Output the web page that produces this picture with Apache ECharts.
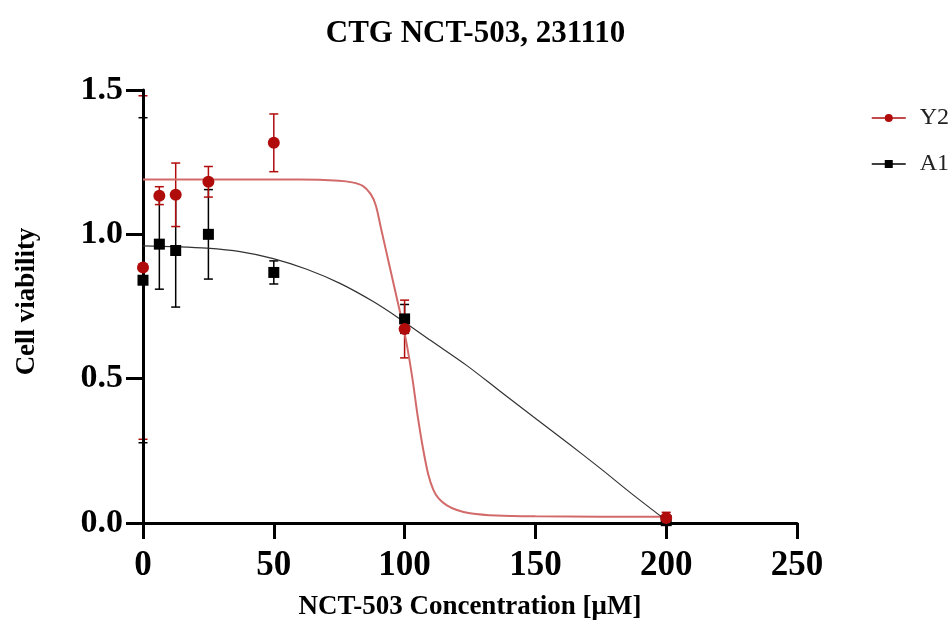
<!DOCTYPE html>
<html>
<head>
<meta charset="utf-8">
<script src="https://cdn.jsdelivr.net/npm/echarts@6/dist/echarts.min.js"></script>
<style>
html,body{margin:0;padding:0;background:#fff;}
#chart{width:951px;height:626px;}
</style>
</head>
<body>
<div id="chart"></div>
<script>
// ---- data ----
var concentrations = [0, 6.25, 12.5, 25, 50, 100, 200];
var y2Mean = [0.885, 1.134, 1.137, 1.182, 1.317, 0.672, 0.017];
var y2Err  = [0.595, 0.031, 0.110, 0.053, 0.100, 0.100, 0.020];
var a1Mean = [0.841, 0.966, 0.944, 1.000, 0.868, 0.707, 0.008];
var a1Err  = [0.563, 0.156, 0.196, 0.155, 0.040, 0.050, 0.010];

// fitted curves
var y2CurveX = [0, 30, 60, 75, 80, 84, 87, 89, 91, 93, 95, 97, 99, 101, 103, 105, 107, 109, 111, 113, 116, 120, 125, 135, 150, 175, 200];
var y2CurveY = [1.19, 1.19, 1.19, 1.186, 1.18, 1.168, 1.14, 1.10, 1.02, 0.94, 0.86, 0.78, 0.70, 0.61, 0.50, 0.37, 0.26, 0.17, 0.115, 0.085, 0.062, 0.045, 0.034, 0.026, 0.023, 0.022, 0.022];
var a1CurveX = [0, 12.5, 24.3, 37.1, 49.8, 62.6, 75.3, 88, 98.2, 110, 123.7, 136, 149.2, 162, 174.7, 187, 200];
var a1CurveY = [0.96, 0.957, 0.952, 0.94, 0.916, 0.879, 0.83, 0.767, 0.707, 0.632, 0.546, 0.46, 0.368, 0.28, 0.19, 0.10, 0.009];

var xTicks = [0, 50, 100, 150, 200, 250];
var yTicks = [0, 0.5, 1.0, 1.5];
var seriesNames = ['Y2', 'A1'];

function pairs(xs, ys) { return xs.map(function (x, i) { return [x, ys[i]]; }); }
function errData(xs, m, e) { return xs.map(function (x, i) { return [x, m[i] - e[i], m[i] + e[i]]; }); }

var RED = '#b00c0c';
var RED_CURVE = '#d26a6a';
var BLACK = '#000000';
var FONT = '"Liberation Serif", "DejaVu Serif", serif';

function errRender(color) {
  return function (params, api) {
    var x = api.value(0);
    var lo = api.coord([x, api.value(1)]);
    var hi = api.coord([x, api.value(2)]);
    var w = 4.5;
    var style = { stroke: color, lineWidth: 1.5 };
    return {
      type: 'group',
      children: [
        { type: 'line', shape: { x1: lo[0], y1: lo[1], x2: hi[0], y2: hi[1] }, style: style },
        { type: 'line', shape: { x1: lo[0] - w, y1: lo[1], x2: lo[0] + w, y2: lo[1] }, style: style },
        { type: 'line', shape: { x1: hi[0] - w, y1: hi[1], x2: hi[0] + w, y2: hi[1] }, style: style }
      ]
    };
  };
}

var chart = echarts.init(document.getElementById('chart'), null, { renderer: 'canvas' });
chart.setOption({
  backgroundColor: '#ffffff',
  animation: false,
  title: {
    text: 'CTG NCT-503, 231110',
    left: 'center',
    top: 13,
    textStyle: { fontFamily: FONT, fontWeight: 'bold', fontSize: 31, color: '#000' }
  },
  legend: {
    orient: 'vertical',
    left: 866,
    top: 101,
    itemWidth: 34,
    itemHeight: 10,
    itemGap: 22,
    textStyle: { fontFamily: FONT, fontSize: 24, color: '#222', padding: [0, 0, 0, 9] },
    data: [
      { name: seriesNames[0], itemStyle: { color: RED }, lineStyle: { color: RED, width: 1.5 } },
      { name: seriesNames[1], itemStyle: { color: BLACK }, lineStyle: { color: BLACK, width: 1.5 } }
    ]
  },
  grid: { left: 143, right: 154, top: 90, bottom: 101, containLabel: false },
  xAxis: {
    type: 'value',
    z: 1.5,
    min: xTicks[0],
    max: xTicks[xTicks.length - 1],
    interval: xTicks[1] - xTicks[0],
    name: 'NCT-503 Concentration [μM]',
    nameLocation: 'middle',
    nameGap: 71,
    nameTextStyle: { fontFamily: FONT, fontWeight: 'bold', fontSize: 27, color: '#000' },
    splitLine: { show: false },
    axisLine: { show: true, onZero: false, lineStyle: { color: '#000', width: 3 } },
    axisTick: { show: true, length: 16, lineStyle: { color: '#000', width: 3 } },
    axisLabel: { margin: 25, fontFamily: FONT, fontWeight: 'bold', fontSize: 35, color: '#000' }
  },
  yAxis: {
    type: 'value',
    z: 1.5,
    min: yTicks[0],
    max: yTicks[yTicks.length - 1],
    interval: yTicks[1] - yTicks[0],
    name: 'Cell viability',
    nameLocation: 'middle',
    nameGap: 102,
    nameTextStyle: { fontFamily: FONT, fontWeight: 'bold', fontSize: 27, color: '#000', padding: [0, 0, 0, 10] },
    splitLine: { show: false },
    axisLine: { show: true, onZero: false, lineStyle: { color: '#000', width: 3 } },
    axisTick: { show: true, length: 17, lineStyle: { color: '#000', width: 3 } },
    axisLabel: {
      margin: 20, fontFamily: FONT, fontWeight: 'bold', fontSize: 34, color: '#000',
      formatter: function (v) { return v.toFixed(1); }
    }
  },
  series: [
    {
      name: seriesNames[0], type: 'line', data: pairs(y2CurveX, y2CurveY),
      smooth: 0.3, showSymbol: false, symbol: 'circle', symbolSize: 11,
      lineStyle: { color: RED_CURVE, width: 2 }, itemStyle: { color: RED }, z: 2
    },
    {
      name: seriesNames[1], type: 'line', data: pairs(a1CurveX, a1CurveY),
      smooth: 0.3, showSymbol: false, symbol: 'rect', symbolSize: 10,
      lineStyle: { color: '#333', width: 1.2 }, itemStyle: { color: BLACK }, z: 2
    },
    {
      name: seriesNames[1], type: 'custom', data: errData(concentrations, a1Mean, a1Err),
      renderItem: errRender(BLACK), clip: false, z: 1, encode: { x: 0, y: [1, 2] }
    },
    {
      name: seriesNames[0], type: 'custom', data: errData(concentrations, y2Mean, y2Err),
      renderItem: errRender(RED), clip: false, z: 1, encode: { x: 0, y: [1, 2] }
    },
    {
      name: seriesNames[1], type: 'scatter', data: pairs(concentrations, a1Mean),
      symbol: 'rect', symbolSize: 11, itemStyle: { color: BLACK, opacity: 1 }, clip: false, z: 4
    },
    {
      name: seriesNames[0], type: 'scatter', data: pairs(concentrations, y2Mean),
      symbol: 'circle', symbolSize: 12, itemStyle: { color: RED, opacity: 1 }, clip: false, z: 5
    }
  ]
});
</script>
</body>
</html>
